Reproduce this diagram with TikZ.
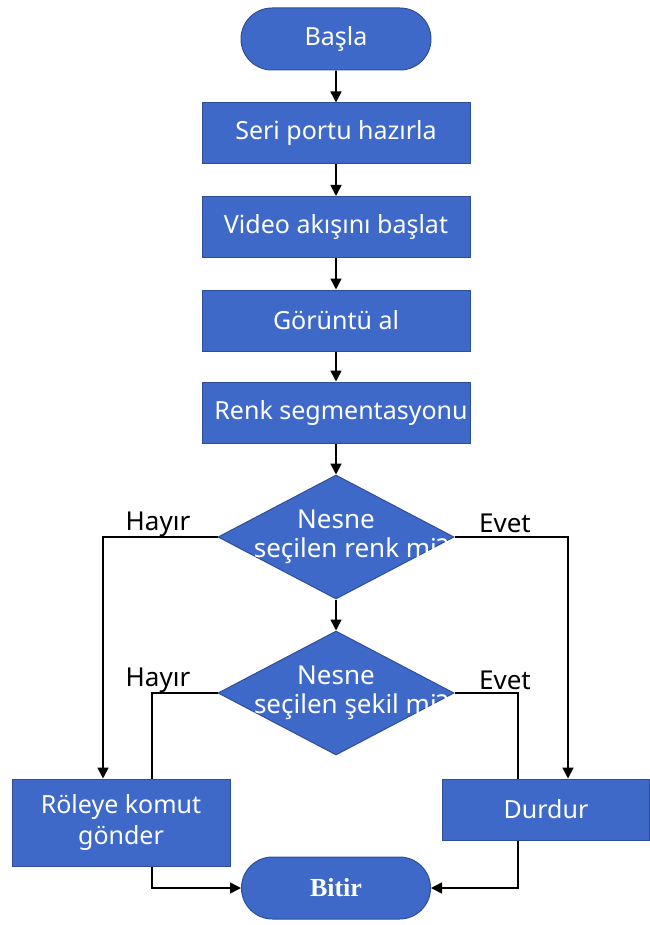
\documentclass[tikz,border=0pt]{standalone}
\usepackage{fontspec}
\setmainfont{Noto Sans}
\newfontfamily\bitfont{Liberation Serif}
\usetikzlibrary{shapes.geometric,shapes.misc,arrows.meta}
\definecolor{boxfill}{HTML}{3E69C9}
\definecolor{boxline}{HTML}{2F4E98}
\tikzset{
  base/.style={fill=boxfill, draw=boxline, line width=1pt, text=white, font=\fontsize{25}{31}\selectfont, inner sep=0pt, align=center},
  term/.style={base, rounded rectangle, minimum width=190pt, minimum height=62pt},
  procbox/.style={base, rectangle, minimum width=268pt, minimum height=61pt},
  dia/.style={base, diamond, minimum width=236pt, minimum height=124pt, aspect=1.9},
  arr/.style={draw=black, line width=1.6pt, -{Triangle[length=11pt,width=11pt]}},
  ln/.style={draw=black, line width=1.6pt},
  lab/.style={font=\fontsize{26}{28}\selectfont, text=black, inner sep=0pt}
}
\begin{document}
\begin{tikzpicture}[x=1pt,y=-1pt]
\useasboundingbox (0,0) rectangle (649,925);
\node[term] (basla) at (336,39) {Başla};
\node[procbox] (seri) at (336,133.5) {Seri portu hazırla};
\node[procbox] (video) at (336,227) {Video akışını başlat};
\node[procbox] (gor) at (336,320.5) {Görüntü al};
\node[procbox] (renk) at (336,412.5) {\makebox[0pt]{\hspace*{10pt}Renk segmentasyonu}};
\node[dia] (d1) at (336,537) {\makebox[0pt]{\fontsize{26}{31}\selectfont\begin{tabular}{@{}c@{}}Nesne\\[-2pt]\hspace*{30pt}seçilen renk mi?\end{tabular}}};
\node[dia] (d2) at (336,693) {\makebox[0pt]{\fontsize{26}{31}\selectfont\begin{tabular}{@{}c@{}}Nesne\\[-2pt]\hspace*{30pt}seçilen şekil mi?\end{tabular}}};
\node[base, rectangle, minimum width=218pt, minimum height=87pt] (rol) at (121,822.5) {Röleye komut\\gönder};
\node[base, rectangle, minimum width=207pt, minimum height=61pt] (dur) at (546,809.5) {Durdur};
\node[term, minimum width=189pt, font=\bitfont\bfseries\fontsize{26}{28}\selectfont] (bit) at (336,888) {Bitir};

\draw[arr] (basla) -- (seri);
\draw[arr] (seri) -- (video);
\draw[arr] (video) -- (gor);
\draw[arr] (gor) -- (renk);
\draw[arr] (renk) -- (d1);
\draw[arr] (d1) -- (d2);
\draw[arr] (d1.west) -| ([xshift=-18pt]rol.north);
\draw[arr] (d1.east) -| ([xshift=22pt]dur.north);
\draw[ln] (d2.west) -| ([xshift=31pt]rol.north);
\draw[ln] (d2.east) -| ([xshift=-28pt]dur.north);
\draw[arr] ([xshift=31pt]rol.south) |- (bit.west);
\draw[arr] ([xshift=-28pt]dur.south) |- (bit.east);

\node[lab] (h1) at (158,524) {Hayır};
\node[lab] (e1) at (505,523) {Evet};
\node[lab] (h2) at (158,680) {Hayır};
\node[lab] (e2) at (505,680) {Evet};
\end{tikzpicture}
\end{document}
